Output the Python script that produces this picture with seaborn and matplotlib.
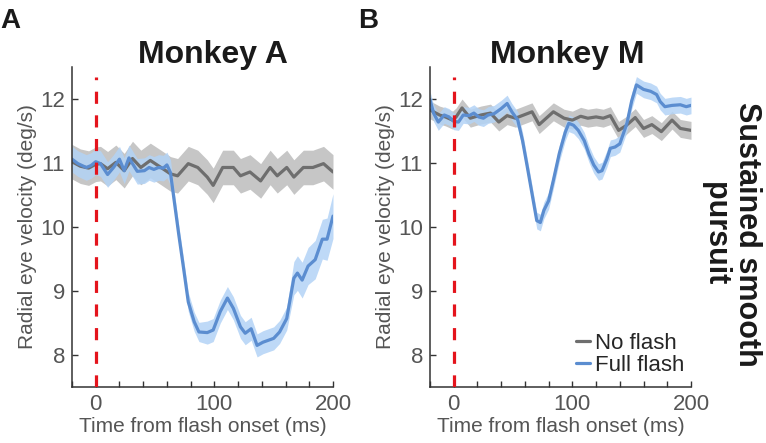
import pandas as pd
import seaborn as sns
import matplotlib.pyplot as plt

# Monkey A, no flash (grey)
time_a_no = [-20, -13, -6, 0, 4, 10, 17, 24, 31, 38, 46, 55, 63, 69, 78, 86, 94, 99, 107, 116,
             122, 130, 139, 147, 153, 161, 167, 175, 183, 192, 200]
vel_a_no = [11.02, 10.95, 10.92, 10.98, 10.99, 10.91, 11.01, 10.88, 11.07, 10.93, 11.04, 10.93,
            10.83, 10.80, 10.99, 10.93, 10.78, 10.65, 10.93, 10.93, 10.80, 10.86, 10.72, 10.93,
            10.80, 10.93, 10.78, 10.93, 10.93, 10.99, 10.86]
sem_a_no = 0.27

# Monkey A, full flash (blue)
time_a_full = [-20, -15, -8, -4, 0, 4, 10, 15, 20, 24, 28, 35, 41, 45, 49, 53, 57, 60, 63, 66,
               70, 74, 78, 83, 87, 94, 99, 105, 111, 116, 122, 126, 131, 136, 141, 150, 155, 161,
               167, 170, 174, 179, 185, 191, 195, 200]
vel_a_full = [11.06, 10.99, 10.93, 10.96, 11.02, 10.99, 10.82, 10.93, 11.06, 10.88, 11.08, 10.87,
              10.88, 10.93, 10.90, 10.93, 10.92, 10.97, 10.85, 10.43, 9.88, 9.36, 8.83, 8.52,
              8.36, 8.35, 8.39, 8.68, 8.89, 8.73, 8.44, 8.34, 8.41, 8.15, 8.20, 8.26, 8.36, 8.57,
              9.20, 9.28, 9.17, 9.39, 9.49, 9.81, 9.81, 10.17]
sem_a_full = [0.2] * 19 + [0.15] * 6 + [0.18] * 13 + [0.26, 0.27, 0.28, 0.29, 0.3, 0.31, 0.33, 0.35]

# Monkey M, no flash (grey)
time_m_no = [-20, -12, -7, -1, 2, 7, 14, 23, 31, 38, 45, 52, 59, 66, 72, 78, 84, 93, 100, 107,
             113, 120, 126, 132, 139, 145, 153, 160, 167, 175, 184, 191, 200]
vel_m_no = [11.83, 11.75, 11.72, 11.67, 11.72, 11.86, 11.70, 11.75, 11.78, 11.64, 11.74, 11.70,
            11.75, 11.80, 11.60, 11.70, 11.80, 11.70, 11.67, 11.73, 11.70, 11.72, 11.70, 11.74,
            11.51, 11.58, 11.71, 11.54, 11.60, 11.49, 11.67, 11.54, 11.51]
sem_m_no = 0.14

# Monkey M, full flash (blue)
time_m_full = [-20, -17, -13, -8, -4, 0, 4, 8, 13, 17, 21, 25, 29, 34, 40, 45, 49, 54, 58, 62,
               66, 70, 73, 76, 80, 84, 89, 94, 97, 101, 105, 110, 114, 118, 122, 125, 129, 132,
               136, 140, 146, 150, 154, 160, 166, 171, 174, 178, 184, 191, 196, 200]
vel_m_full = [11.99, 11.78, 11.64, 11.75, 11.72, 11.65, 11.64, 11.75, 11.74, 11.78, 11.72, 11.70,
              11.75, 11.77, 11.85, 11.93, 11.80, 11.67, 11.35, 10.94, 10.52, 10.10, 10.07, 10.26,
              10.41, 10.73, 11.15, 11.48, 11.62, 11.59, 11.51, 11.35, 11.14, 10.97, 10.86, 10.88,
              11.06, 11.23, 11.25, 11.30, 11.62, 11.97, 12.22, 12.15, 12.12, 12.07, 11.96, 11.88,
              11.90, 11.91, 11.88, 11.90]
sem_m_full = 0.13

flash_time = 0
x_ticks = list(range(-20, 201, 20))
x_labels = ['' if t not in (0, 100, 200) else str(t) for t in x_ticks]
y_ticks = [8, 9, 10, 11, 12]

GREY, GREY_BAND = '#6e6e6e', '#c6c6c6'
BLUE, BLUE_BAND = '#5b8dd0', '#b3d3f6'
RED = '#e4141c'
TXT = '#555555'

sns.set_theme(style='white')
plt.rcParams['font.family'] = ['Liberation Sans', 'DejaVu Sans']

fig = plt.figure(figsize=(7.66, 4.43), dpi=100)
W, H = 766, 443
ax_a = fig.add_axes([72 / W, 56 / H, 261 / W, 320 / H])
ax_b = fig.add_axes([430 / W, 56 / H, 261 / W, 320 / H])


def draw_panel(ax, t_no, v_no, s_no, t_full, v_full, s_full):
    no = pd.DataFrame({'t': t_no, 'v': v_no})
    full = pd.DataFrame({'t': t_full, 'v': v_full})
    no['s'] = s_no
    full['s'] = s_full
    ax.fill_between(no['t'], no['v'] - no['s'], no['v'] + no['s'], color=GREY_BAND, lw=0)
    sns.lineplot(data=no, x='t', y='v', ax=ax, color=GREY, lw=2.3, label='No flash')
    ax.fill_between(full['t'], full['v'] - full['s'], full['v'] + full['s'], color=BLUE_BAND, lw=0, alpha=0.85)
    sns.lineplot(data=full, x='t', y='v', ax=ax, color=BLUE, lw=2.3, label='Full flash')
    ax.vlines(flash_time, 7.5, 12.35, colors=RED, lw=2.3, linestyles=(0, (3.8, 3.6)), zorder=5)

    ax.set_xlim(-20, 200)
    ax.set_ylim(7.5, 12.5)
    ax.set_xticks(x_ticks)
    ax.set_xticklabels(x_labels)
    ax.set_yticks(y_ticks)
    ax.tick_params(bottom=True, left=True, direction='in', length=4, width=1, colors='#333333',
                   labelcolor=TXT, labelsize=16, pad=5)
    for side in ['top', 'right']:
        ax.spines[side].set_visible(False)
    for side in ['left', 'bottom']:
        ax.spines[side].set_color('#333333')
        ax.spines[side].set_linewidth(1.1)
    ax.set_xlabel('Time from flash onset (ms)', fontsize=15, color=TXT)
    ax.set_ylabel('Radial eye velocity (deg/s)', fontsize=15, color=TXT)
    ax.xaxis.set_label_coords(0.5, -0.125)
    ax.xaxis.label.set_va('center')
    ax.yaxis.set_label_coords(-0.172, 0.5)
    ax.yaxis.label.set_va('center')
    ax.get_legend().remove()


draw_panel(ax_a, time_a_no, vel_a_no, sem_a_no, time_a_full, vel_a_full, sem_a_full)
draw_panel(ax_b, time_m_no, vel_m_no, sem_m_no, time_m_full, vel_m_full, sem_m_full)

ax_b.legend(loc='lower right', bbox_to_anchor=(0.975, 0.035), frameon=False, fontsize=16,
            handlelength=0.6, handletextpad=0.25, labelspacing=0.05, borderpad=0,
            borderaxespad=0)

fig.text(213 / W, 1 - 63 / H, 'Monkey A', fontsize=23, fontweight='bold', ha='center',
         va='baseline', color='#1a1a1a')
fig.text(567 / W, 1 - 63 / H, 'Monkey M', fontsize=23, fontweight='bold', ha='center',
         va='baseline', color='#1a1a1a')
fig.text(0 / W, 1 - 28 / H, 'A', fontsize=20, fontweight='bold', ha='left', va='baseline',
         color='#1a1a1a')
fig.text(358 / W, 1 - 28 / H, 'B', fontsize=20, fontweight='bold', ha='left', va='baseline',
         color='#1a1a1a')
fig.text(731 / W, 1 - 234 / H, 'Sustained smooth\npursuit', fontsize=22, fontweight='bold',
         rotation=-90, ha='center', va='center', multialignment='center', color='#1a1a1a',
         linespacing=1.05)

fig.savefig('out.png', dpi=100)
